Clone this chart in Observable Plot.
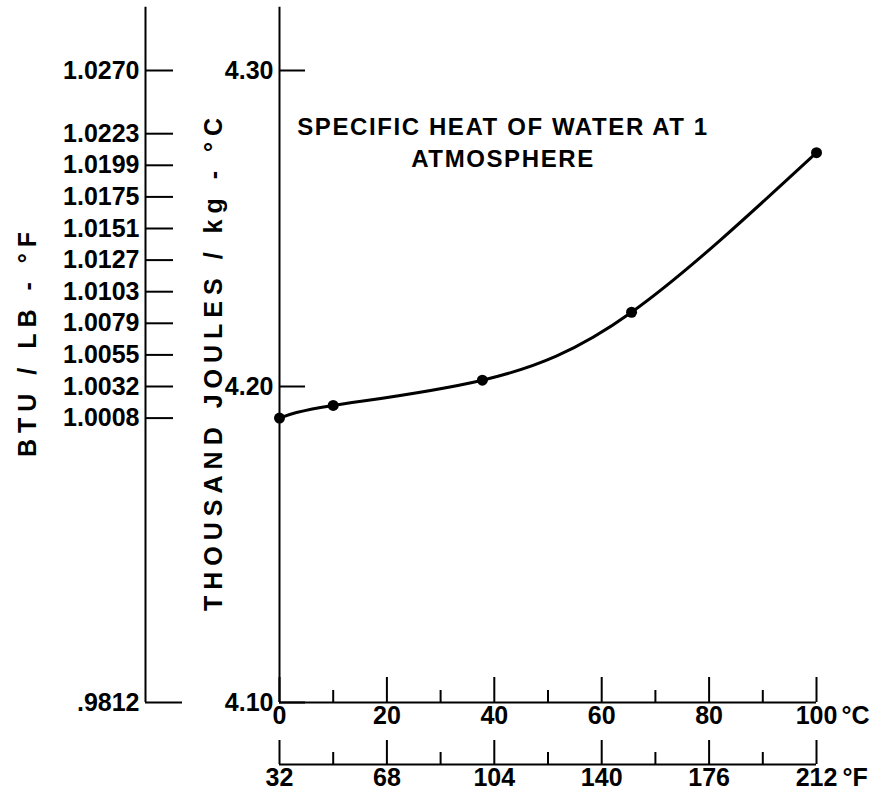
<!DOCTYPE html>
<html>
<head>
<meta charset="utf-8">
<script src="https://cdn.jsdelivr.net/npm/d3@7"></script>
<script src="https://cdn.jsdelivr.net/npm/@observablehq/plot@0.6"></script>
<style>
  html, body { margin: 0; padding: 0; background: #fff; }
  #chart { width: 876px; height: 802px; }
</style>
</head>
<body>
<div id="chart"></div>
<script>
// ---- data ----
const tempC = [0, 10, 37.78, 65.56, 100];            // °C (32, 50, 100, 150, 212 °F)
const heatKJ = [4.190, 4.194, 4.202, 4.2235, 4.274]; // thousand J / kg-°C

const cMajor = [0, 20, 40, 60, 80, 100];
const cMinor = [10, 30, 50, 70, 90];
const fLabels = ["32", "68", "104", "140", "176", "212"];
const kjTicks = [4.10, 4.20, 4.30];
const kjAxisTop = 4.32;
const btuTickAt = [4.30, 4.28, 4.27, 4.26, 4.25, 4.24, 4.23, 4.22, 4.21, 4.20, 4.19, 4.10];
const btuLabels = ["1.0270", "1.0223", "1.0199", "1.0175", "1.0151", "1.0127", "1.0103", "1.0079", "1.0055", "1.0032", "1.0008", ".9812"];

const titleText = "SPECIFIC HEAT OF WATER AT 1\nATMOSPHERE";
const yLabelKJ = "THOUSAND JOULES / kg - °C";
const yLabelBTU = "BTU / LB - °F";
const unitC = "°C";
const unitF = "°F";

const points = tempC.map((t, i) => ({t, v: heatKJ[i]}));

const W = 876, H = 802;
const mL = 279, mR = 60, mT = 70, mB = 100;
const fw = W - mL - mR, fh = H - mT - mB;
const FS = 25;
const FW = "bold";
const btuDx = -134;
const fDy = 62;

const chart = Plot.plot({
  width: W, height: H,
  marginLeft: mL, marginRight: mR, marginTop: mT, marginBottom: mB,
  x: {domain: [0, 100], axis: null},
  y: {domain: [4.10, 4.30], axis: null},
  style: {fontFamily: "'Liberation Sans', Arial, sans-serif", background: "#fff", color: "#000"},
  marks: [
    // main (kJ) axis line and ticks
    Plot.ruleX([0], {y1: 4.10, y2: kjAxisTop, strokeWidth: 2}),
    Plot.tickY(kjTicks, {y: d => d, insetRight: fw - 26, strokeWidth: 2}),
    Plot.text(kjTicks, {y: d => d, frameAnchor: "left", textAnchor: "end", dx: -6, text: d => d3.format(".2f")(d), fontSize: FS, fontWeight: FW}),

    // BTU axis (offset to the left)
    Plot.ruleX([0], {y1: 4.10, y2: kjAxisTop, dx: btuDx, strokeWidth: 2}),
    Plot.tickY(btuTickAt.filter(d => d > 4.10), {y: d => d, dx: btuDx, insetRight: fw - 28, strokeWidth: 2}),
    Plot.tickY(btuTickAt.filter(d => d <= 4.10), {y: d => d, dx: btuDx, insetRight: fw - 37, strokeWidth: 2}),
    Plot.text(btuTickAt, {y: d => d, frameAnchor: "left", textAnchor: "end", dx: btuDx - 6, text: (d, i) => btuLabels[i], fontSize: FS, fontWeight: FW}),

    // °C axis
    Plot.ruleY([4.10], {x1: 0, x2: 100, strokeWidth: 2}),
    Plot.tickX(cMajor, {x: d => d, insetTop: fh - 25, strokeWidth: 2}),
    Plot.tickX(cMinor, {x: d => d, insetTop: fh - 12, strokeWidth: 2}),
    Plot.text(cMajor, {x: d => d, frameAnchor: "bottom", dy: 21, text: d => String(d), fontSize: FS, fontWeight: FW}),
    Plot.text([100], {x: d => d, frameAnchor: "bottom", dy: 21, dx: 25, textAnchor: "start", text: () => unitC, fontSize: FS, fontWeight: FW}),

    // °F axis
    Plot.ruleY([4.10], {x1: 0, x2: 100, dy: fDy, strokeWidth: 2}),
    Plot.tickX(cMajor, {x: d => d, dy: fDy, insetTop: fh - 24, strokeWidth: 2}),
    Plot.tickX(cMinor, {x: d => d, dy: fDy, insetTop: fh - 12, strokeWidth: 2}),
    Plot.text(cMajor, {x: d => d, frameAnchor: "bottom", dy: 21 + fDy, text: (d, i) => fLabels[i], fontSize: FS, fontWeight: FW}),
    Plot.text([100], {x: d => d, frameAnchor: "bottom", dy: 21 + fDy, dx: 26, textAnchor: "start", text: () => unitF, fontSize: FS, fontWeight: FW}),

    // axis titles
    Plot.text([yLabelBTU], {frameAnchor: "top-left", textAnchor: "middle", dx: 18 - mL, dy: 341 - mT, rotate: -90, text: d => d, fontSize: FS, fontWeight: FW}),
    Plot.text([yLabelKJ], {frameAnchor: "top-left", textAnchor: "middle", dx: 204 - mL, dy: 361 - mT, rotate: -90, text: d => d, fontSize: FS, fontWeight: FW}),

    // chart title
    Plot.text([titleText], {frameAnchor: "top", textAnchor: "middle", dx: -45, dy: 42, lineAnchor: "top", lineHeight: 1.33, text: d => d, fontSize: 24, fontWeight: FW}),

    // data
    Plot.line(points, {x: "t", y: "v", curve: "natural", strokeWidth: 3, stroke: "#000"}),
    Plot.dot(points, {x: "t", y: "v", r: 5.5, fill: "#000"})
  ]
});

chart.querySelectorAll("text").forEach(t => {
  const s = t.textContent;
  if (s === yLabelBTU) t.style.letterSpacing = "6px";
  else if (s === yLabelKJ) t.style.letterSpacing = "6px";
  else if (s.startsWith("SPECIFIC")) t.style.letterSpacing = "1.6px";
});

document.getElementById("chart").appendChild(chart);
</script>
</body>
</html>
